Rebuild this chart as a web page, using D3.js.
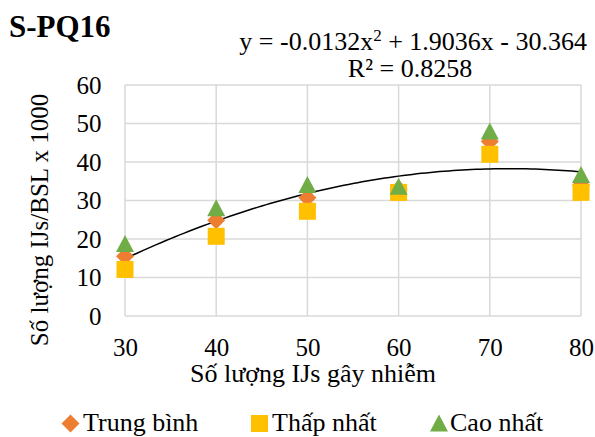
<!DOCTYPE html>
<html><head><meta charset="utf-8">
<script src="https://cdn.jsdelivr.net/npm/d3@7"></script>
<style>body{margin:0;background:#fff}svg text{font-family:"Liberation Serif","Times New Roman",serif}</style>
</head><body>
<svg id="c" width="595" height="437"></svg>
<script>
const xValues = [30, 40, 50, 60, 70, 80];
const avgValues = [15.5, 24.9, 30.7, 33.0, 45.3, 34.0];
const minValues = [12.1, 20.7, 27.2, 32.1, 42.0, 32.1];
const maxValues = [18.7, 28.0, 34.0, 33.6, 47.9, 36.6];
const yTicks = [0, 10, 20, 30, 40, 50, 60];
const xTicks = [30, 40, 50, 60, 70, 80];
const trendCoef = [-0.0132, 1.9036, -30.364];
const seriesNames = ["Trung bình", "Thấp nhất", "Cao nhất"];
const colors = ["#ED7D31", "#FFC000", "#70AD47"];

const svg = d3.select("#c");
const x = d3.scaleLinear().domain([30, 80]).range([125, 581]);
const y = d3.scaleLinear().domain([0, 60]).range([316, 85]);

// grid
svg.append("g").selectAll("line").data(yTicks).join("line")
  .attr("x1", x(30)).attr("x2", x(80)).attr("y1", d => y(d)).attr("y2", d => y(d))
  .attr("stroke", "#d9d9d9").attr("stroke-width", 1.5);
svg.append("g").selectAll("line").data(xTicks).join("line")
  .attr("y1", y(0)).attr("y2", y(60)).attr("x1", d => x(d)).attr("x2", d => x(d))
  .attr("stroke", "#d9d9d9").attr("stroke-width", 1.5);

// axes labels
const yAxis = svg.append("g").attr("transform", `translate(${x(30)},0)`)
  .call(d3.axisLeft(y).tickValues(yTicks).tickSize(0).tickPadding(23.5));
yAxis.select(".domain").remove();
yAxis.selectAll("text").attr("font-size", 25).attr("font-family", "Liberation Serif").attr("fill", "#000").attr("dy", "0.33em");

const xAxis = svg.append("g").attr("transform", `translate(0,${y(0)})`)
  .call(d3.axisBottom(x).tickValues(xTicks).tickSize(0).tickPadding(0));
xAxis.select(".domain").remove();
xAxis.selectAll("text").attr("font-size", 25).attr("font-family", "Liberation Serif").attr("fill", "#000").attr("dy", 40).attr("y", 0);

// trend
const tr = d3.range(30, 80.01, 0.5).map(v => [v, trendCoef[0]*v*v + trendCoef[1]*v + trendCoef[2]]);
svg.append("path").datum(tr)
  .attr("d", d3.line().x(d => x(d[0])).y(d => y(d[1])))
  .attr("fill", "none").attr("stroke", "#000").attr("stroke-width", 1.5);

function drawMarker(g, i, cx, cy) {
  if (i === 0) {
    g.append("path").attr("d", `M${cx},${cy-9}L${cx+9},${cy}L${cx},${cy+9}L${cx-9},${cy}Z`).attr("fill", colors[0]);
  } else if (i === 1) {
    g.append("rect").attr("x", cx - 8.5).attr("y", cy - 8.5).attr("width", 17).attr("height", 17).attr("fill", colors[1]);
  } else {
    g.append("path").attr("d", `M${cx},${cy-9}L${cx+9},${cy+8}L${cx-9},${cy+8}Z`).attr("fill", colors[2]);
  }
}
[avgValues, minValues, maxValues].forEach((vals, i) => {
  const g = svg.append("g");
  vals.forEach((v, j) => drawMarker(g, i, x(xValues[j]), y(v)));
});

// title
svg.append("text").attr("x", 9).attr("y", 37).attr("font-size", 31).attr("font-weight", "bold").text("S-PQ16");

// equation
const eq = svg.append("text").attr("x", 587).attr("y", 50).attr("font-size", 26).attr("text-anchor", "end");
eq.append("tspan").text("y = -0.0132x");
eq.append("tspan").attr("dy", -9).attr("font-size", 17).text("2");
eq.append("tspan").attr("dy", 9).text(" + 1.9036x - 30.364");
svg.append("text").attr("x", 410).attr("y", 77).attr("font-size", 26).attr("text-anchor", "middle").text("R² = 0.8258");

// axis titles
svg.append("text").attr("transform", "translate(48,220) rotate(-90)").attr("font-size", 25).attr("text-anchor", "middle").text("Số lượng IJs/BSL x 1000");
svg.append("text").attr("x", 190).attr("y", 382).attr("font-size", 26).text("Số lượng IJs gây nhiễm");

// legend
const legMarkX = [70.5, 259.5, 439];
const legTextX = [83, 272, 450];
seriesNames.forEach((n, i) => {
  drawMarker(svg, i, legMarkX[i], 423.5);
  svg.append("text").attr("x", legTextX[i]).attr("y", 431).attr("font-size", 26).text(n);
});
</script>
</body></html>
